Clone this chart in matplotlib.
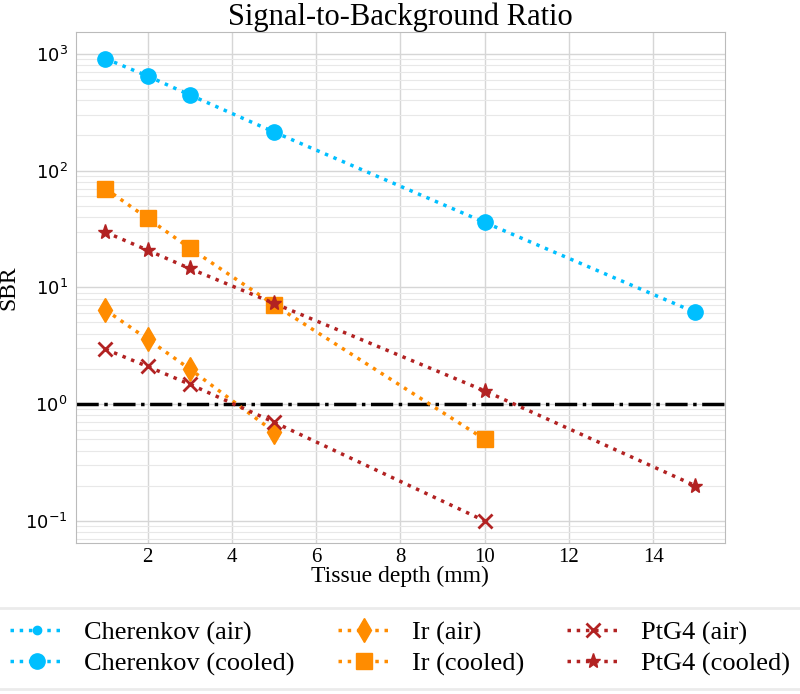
import matplotlib
matplotlib.use('Agg')
import matplotlib.pyplot as plt
import numpy as np

# Data
depth_cher = [1, 2, 3, 5, 10, 15]
sbr_cher_cooled = [910, 645, 445, 214, 36, 6.1]
sbr_cher_air = []   # in the legend, no visible points

depth_ir_air = [1, 2, 3, 5]
sbr_ir_air = [6.4, 3.6, 2.0, 0.58]
depth_ir_cooled = [1, 2, 3, 5, 10]
sbr_ir_cooled = [70, 39, 21.7, 7.1, 0.5]

depth_pt_air = [1, 2, 3, 5, 10]
sbr_pt_air = [2.95, 2.1, 1.48, 0.70, 0.1]
depth_pt_cooled = [1, 2, 3, 5, 10, 15]
sbr_pt_cooled = [29.7, 20.8, 14.5, 7.3, 1.3, 0.2]

serif = 'Liberation Serif'
c_cher = '#00bfff'
c_ir = '#ff8c00'
c_pt = '#b22222'

fig = plt.figure(figsize=(8, 6.94), dpi=100)
ax = fig.add_axes([0.095, 0.218, 0.811, 0.736])

ax.plot([], [], ':', color=c_cher, lw=2.5, marker='o', ms=6, label='Cherenkov (air)')
ax.plot(depth_cher, sbr_cher_cooled, ':', color=c_cher, lw=2.5, marker='o', ms=11,
        label='Cherenkov (cooled)')
ax.plot(depth_ir_air, sbr_ir_air, ':', color=c_ir, lw=2.5, marker='d', ms=12, label='Ir (air)')
ax.plot(depth_ir_cooled, sbr_ir_cooled, ':', color=c_ir, lw=2.5, marker='s', ms=11,
        label='Ir (cooled)')
ax.plot(depth_pt_air, sbr_pt_air, ':', color=c_pt, lw=2.5, marker='x', ms=10, mew=2,
        label='PtG4 (air)')
ax.plot(depth_pt_cooled, sbr_pt_cooled, ':', color=c_pt, lw=2.5, marker='*', ms=11,
        label='PtG4 (cooled)')

ax.axhline(1, color='black', lw=2.5, ls='-.', zorder=1)

ax.set_yscale('log')
ax.set_ylim(0.065, 1540)
ax.set_xticks([2, 4, 6, 8, 10, 12, 14])
ax.grid(True, which='major', color='#d6d6d6', lw=1)
ax.grid(True, which='minor', axis='y', color='#e8e8e8', lw=0.8)
ax.set_axisbelow(True)
ax.tick_params(which='both', length=0, labelsize=13, pad=6)
ax.tick_params(axis='x', labelsize=15, pad=4)
for sp in ax.spines.values():
    sp.set_color('#bbbbbb')
plt.setp(ax.get_xticklabels(), fontfamily=serif)

ax.set_title('Signal-to-Background Ratio', fontfamily=serif, fontsize=22, pad=3)
ax.set_xlabel('Tissue depth (mm)', fontfamily=serif, fontsize=17, labelpad=-1)
ax.set_ylabel('SBR', fontfamily=serif, fontsize=17)

handles, labels = ax.get_legend_handles_labels()
leg = fig.legend(handles, labels, loc='lower left', bbox_to_anchor=(-0.01, 0.0, 1.02, 0.125),
                 mode='expand', ncol=3, prop={'family': serif, 'size': 19},
                 frameon=True, fancybox=False, edgecolor='#e6e6e6', handlelength=2.0,
                 handletextpad=0.8, labelspacing=0.25, borderaxespad=0.2, borderpad=0.5)
leg.get_frame().set_linewidth(2)

fig.savefig('out.png', dpi=100)
